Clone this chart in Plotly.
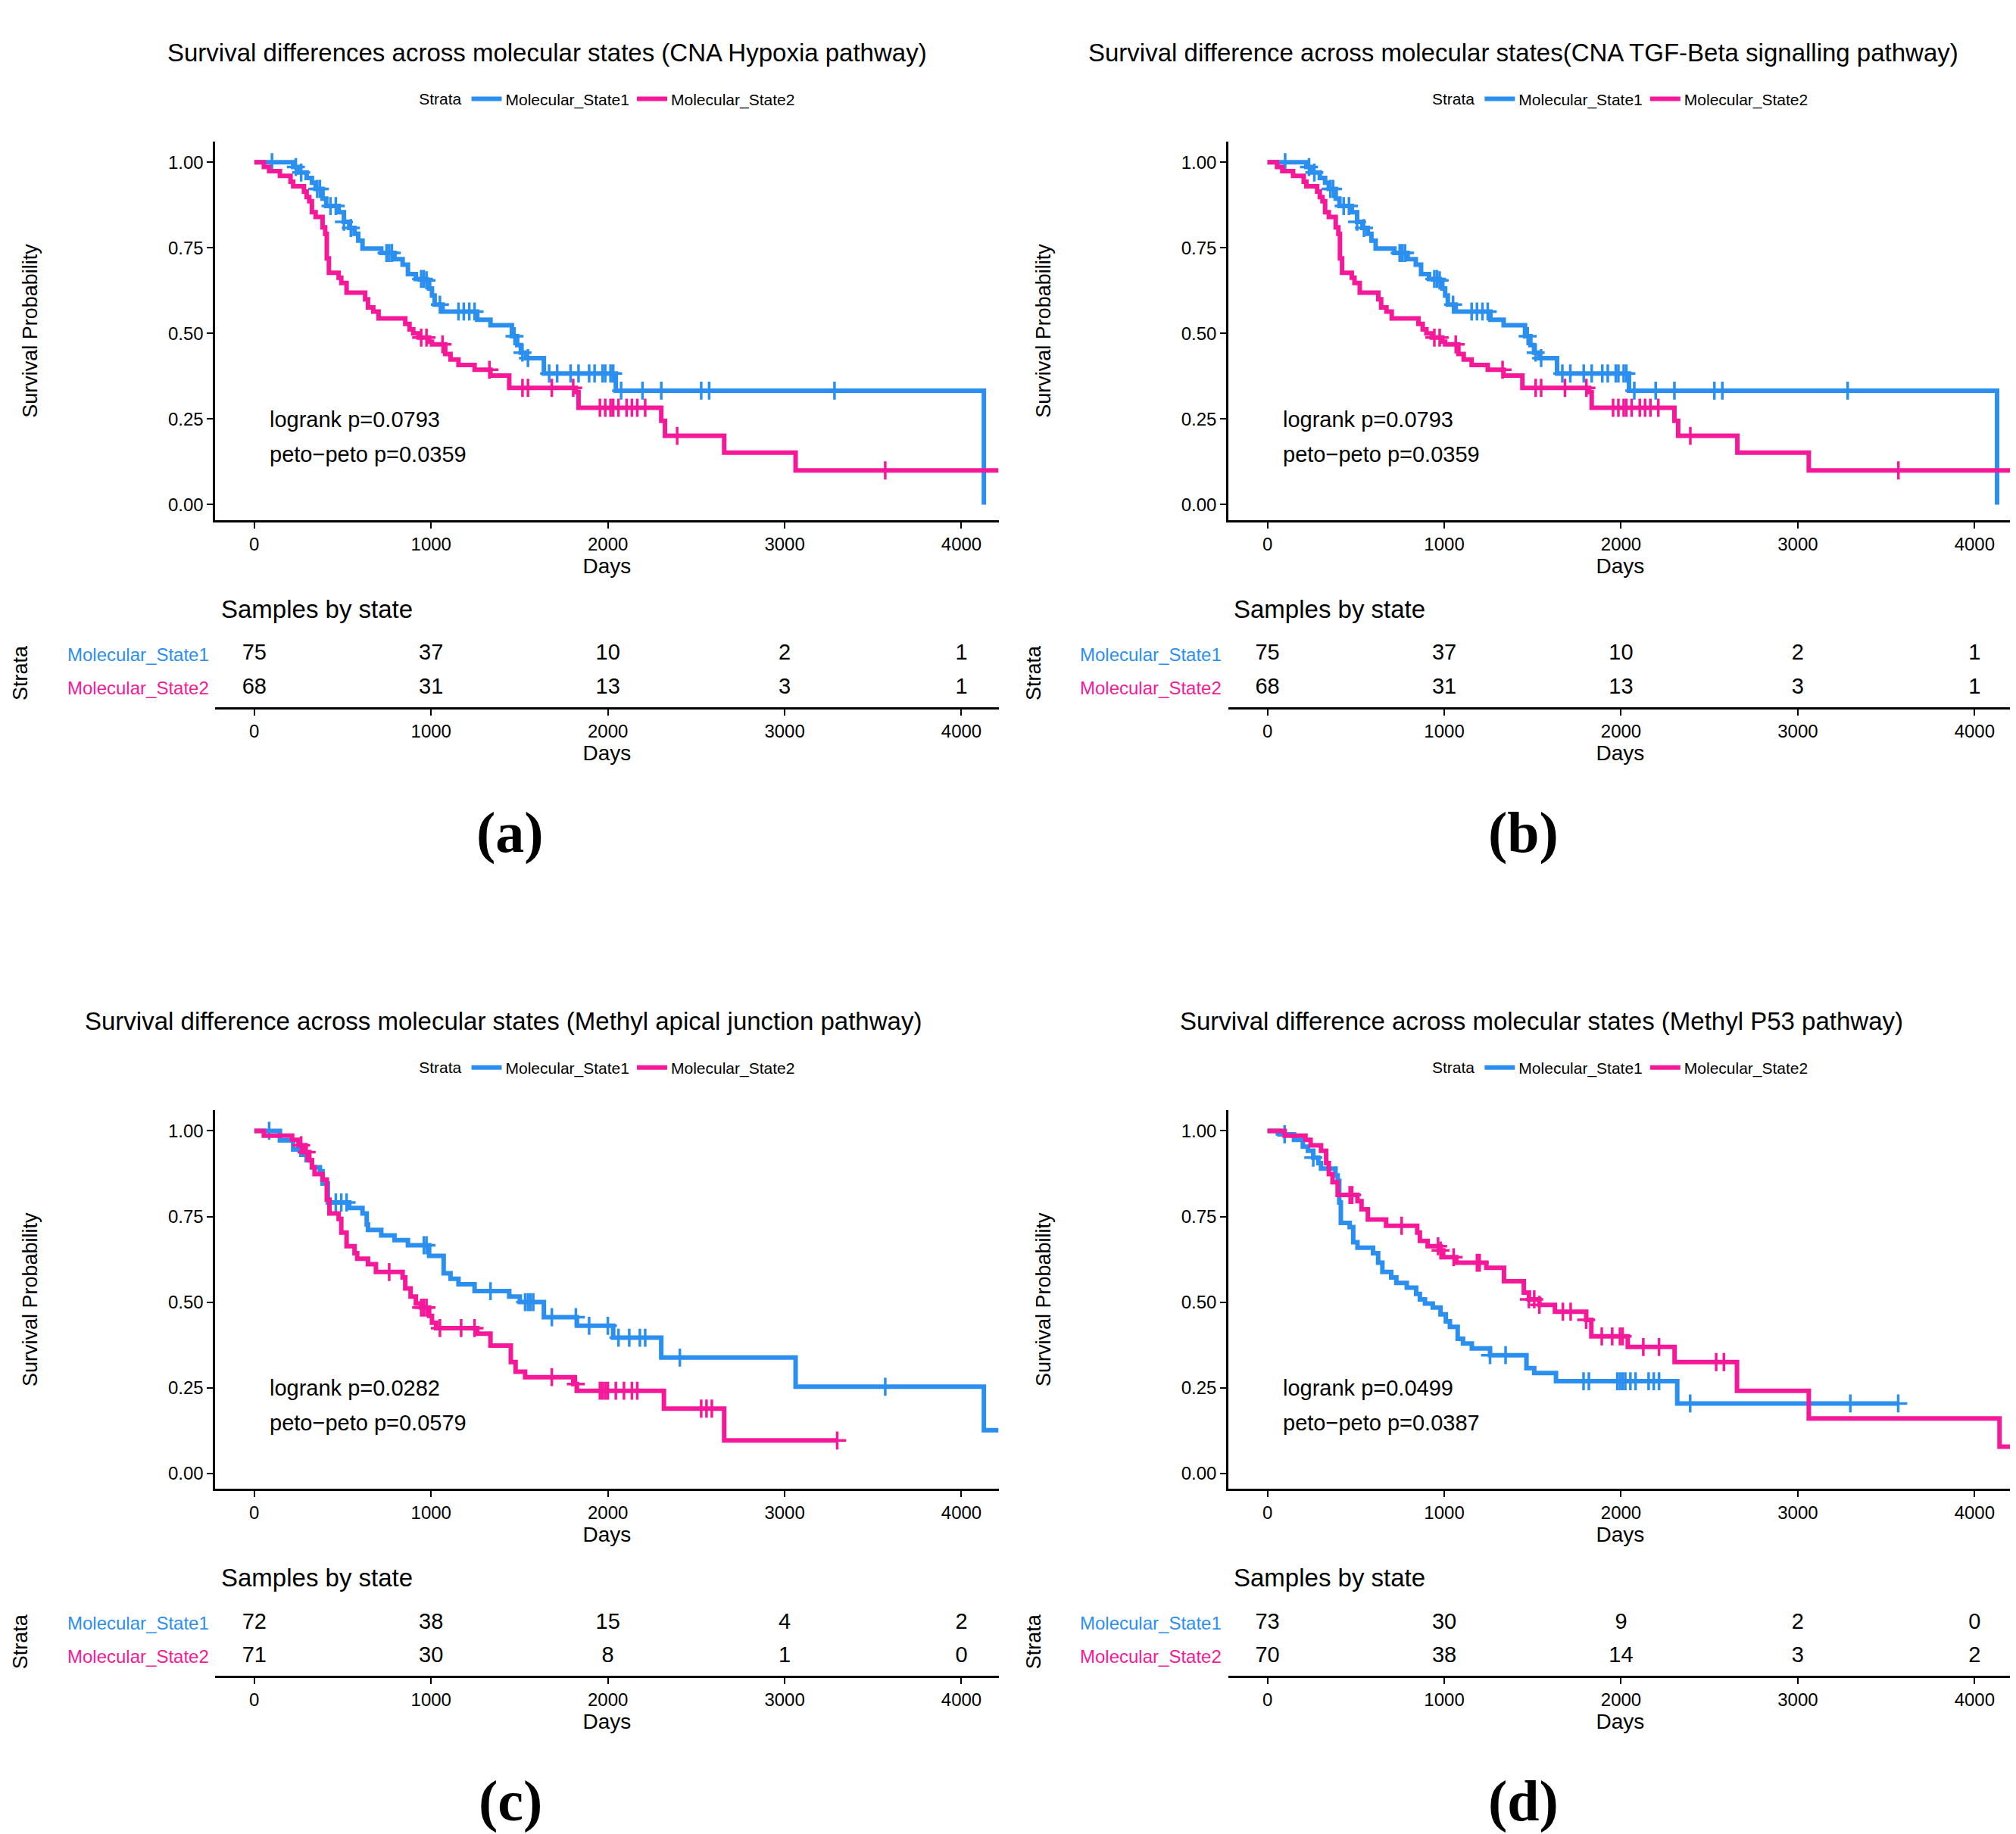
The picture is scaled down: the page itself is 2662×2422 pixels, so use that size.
import numpy as np
import plotly.graph_objects as go

BLUE = "#2b8ff0"
PINK = "#f5199a"
W, H = 2662, 2422
DW, DH = 1560.0, 1420.0  # design coordinates

# ---------------- data ----------------
# Panel a/b (identical)
a_s1_t = [0, 220, 250, 296, 326, 347, 386, 407, 477, 507, 537, 567, 588, 612, 718, 793, 839, 869, 914, 974, 989, 1005, 1020, 1065, 1261, 1336, 1457, 1487, 1508, 1538, 1638, 2045, 4127]
a_s1_s = [1.0, 0.986, 0.970, 0.954, 0.940, 0.922, 0.894, 0.872, 0.854, 0.826, 0.808, 0.791, 0.771, 0.748, 0.735, 0.717, 0.701, 0.673, 0.659, 0.655, 0.631, 0.611, 0.584, 0.564, 0.540, 0.524, 0.492, 0.466, 0.444, 0.428, 0.383, 0.333, 0.0]
a_s1_end = 4127
a_s1_c = [100, 235, 265, 356, 371, 431, 461, 507, 546, 748, 763, 778, 944, 959, 974, 1050, 1155, 1185, 1216, 1246, 1472, 1517, 1548, 1668, 1713, 1789, 1834, 1894, 1925, 1970, 1985, 2015, 2030, 2075, 2196, 2302, 2528, 2573, 3282]
a_s2_t = [0, 54, 84, 145, 205, 220, 281, 296, 311, 326, 347, 386, 401, 410, 422, 477, 492, 522, 627, 643, 673, 703, 854, 878, 899, 929, 989, 1005, 1080, 1110, 1155, 1246, 1336, 1442, 1819, 1834, 2302, 2323, 2658, 3062]
a_s2_s = [1.0, 0.986, 0.974, 0.960, 0.943, 0.930, 0.914, 0.898, 0.886, 0.854, 0.840, 0.810, 0.791, 0.719, 0.677, 0.663, 0.647, 0.619, 0.600, 0.576, 0.564, 0.544, 0.528, 0.512, 0.500, 0.488, 0.476, 0.468, 0.440, 0.424, 0.408, 0.394, 0.377, 0.341, 0.329, 0.283, 0.245, 0.201, 0.152, 0.100]
a_s2_end = 4210
a_s2_c = [944, 974, 1065, 1330, 1517, 1548, 1683, 1804, 1955, 1985, 2015, 2030, 2060, 2106, 2136, 2166, 2211, 2392, 3569]

# Panel c
c_s1_t = [0, 145, 220, 266, 296, 326, 371, 386, 416, 537, 612, 636, 643, 718, 793, 869, 989, 1071, 1110, 1155, 1246, 1442, 1502, 1638, 1825, 2030, 2302, 3062, 4127]
c_s1_s = [1.0, 0.972, 0.946, 0.930, 0.914, 0.894, 0.882, 0.846, 0.791, 0.775, 0.759, 0.727, 0.711, 0.695, 0.681, 0.666, 0.635, 0.584, 0.568, 0.552, 0.532, 0.516, 0.500, 0.456, 0.431, 0.396, 0.338, 0.253, 0.126]
c_s1_end = 4210
c_s1_c = [84, 461, 492, 522, 959, 974, 1336, 1532, 1548, 1563, 1578, 1683, 1819, 1894, 2000, 2060, 2121, 2181, 2211, 2407, 3569]
c_s2_t = [0, 54, 214, 250, 281, 311, 326, 341, 386, 410, 425, 477, 492, 522, 567, 582, 643, 688, 839, 854, 884, 914, 944, 989, 1005, 1029, 1261, 1336, 1451, 1478, 1532, 1804, 1825, 2317, 2658]
c_s2_s = [1.0, 0.986, 0.974, 0.958, 0.938, 0.914, 0.894, 0.874, 0.858, 0.799, 0.759, 0.743, 0.703, 0.663, 0.643, 0.627, 0.611, 0.588, 0.572, 0.540, 0.516, 0.496, 0.484, 0.460, 0.440, 0.424, 0.408, 0.373, 0.325, 0.297, 0.281, 0.261, 0.241, 0.189, 0.096]
c_s2_end = 3297
c_s2_c = [265, 296, 763, 944, 959, 974, 1050, 1170, 1246, 1683, 1819, 1955, 1970, 1985, 2000, 2045, 2091, 2136, 2166, 2528, 2558, 2588, 3297]

# Panel d
d_s1_t = [0, 68, 150, 200, 229, 259, 288, 303, 385, 397, 406, 415, 465, 485, 509, 597, 626, 650, 700, 729, 788, 841, 862, 891, 935, 979, 1009, 1032, 1076, 1106, 1156, 1259, 1465, 1509, 1632, 2318]
d_s1_s = [1.0, 0.990, 0.974, 0.954, 0.942, 0.922, 0.906, 0.890, 0.870, 0.854, 0.791, 0.731, 0.719, 0.675, 0.659, 0.643, 0.615, 0.588, 0.572, 0.556, 0.542, 0.524, 0.508, 0.496, 0.484, 0.464, 0.444, 0.428, 0.393, 0.379, 0.365, 0.345, 0.307, 0.293, 0.269, 0.204]
d_s1_end = 3568
d_s1_c = [97, 259, 1259, 1347, 1788, 1818, 1979, 1994, 2009, 2024, 2053, 2082, 2156, 2185, 2215, 2391, 3297, 3568]
d_s2_t = [0, 97, 215, 244, 303, 332, 347, 368, 397, 509, 532, 568, 671, 847, 862, 906, 979, 994, 1068, 1238, 1338, 1450, 1479, 1538, 1626, 1803, 1832, 2038, 2303, 2656, 3062, 4141]
d_s2_s = [1.0, 0.986, 0.974, 0.958, 0.942, 0.906, 0.874, 0.850, 0.813, 0.795, 0.771, 0.741, 0.723, 0.703, 0.679, 0.663, 0.651, 0.631, 0.615, 0.600, 0.561, 0.528, 0.508, 0.492, 0.472, 0.448, 0.400, 0.369, 0.325, 0.241, 0.160, 0.078]
d_s2_end = 4210
d_s2_c = [465, 479, 759, 965, 979, 1053, 1185, 1200, 1479, 1509, 1538, 1671, 1715, 1803, 1891, 1950, 1994, 2009, 2126, 2215, 2538, 2582]

risk_times = [0, 1000, 2000, 3000, 4000]
a_risk1 = [75, 37, 10, 2, 1]
a_risk2 = [68, 31, 13, 3, 1]
c_risk1 = [72, 38, 15, 4, 2]
c_risk2 = [71, 30, 8, 1, 0]
d_risk1 = [73, 30, 9, 2, 0]
d_risk2 = [70, 38, 14, 3, 2]

titles = ["Survival differences across molecular states (CNA Hypoxia pathway)",
          "Survival difference across molecular states(CNA TGF-Beta signalling pathway)",
          "Survival difference across molecular states (Methyl apical junction pathway)",
          "Survival difference across molecular states (Methyl P53 pathway)"]
pvals = [("logrank p=0.0793", "peto\u2212peto p=0.0359"),
         ("logrank p=0.0793", "peto\u2212peto p=0.0359"),
         ("logrank p=0.0282", "peto\u2212peto p=0.0579"),
         ("logrank p=0.0499", "peto\u2212peto p=0.0387")]
panel_labels = ["(a)", "(b)", "(c)", "(d)"]
strata = ["Molecular_State1", "Molecular_State2"]

panels = [
    ((a_s1_t, a_s1_s, a_s1_end, a_s1_c), (a_s2_t, a_s2_s, a_s2_end, a_s2_c), (a_risk1, a_risk2)),
    ((a_s1_t, a_s1_s, a_s1_end, a_s1_c), (a_s2_t, a_s2_s, a_s2_end, a_s2_c), (a_risk1, a_risk2)),
    ((c_s1_t, c_s1_s, c_s1_end, c_s1_c), (c_s2_t, c_s2_s, c_s2_end, c_s2_c), (c_risk1, c_risk2)),
    ((d_s1_t, d_s1_s, d_s1_end, d_s1_c), (d_s2_t, d_s2_s, d_s2_end, d_s2_c), (d_risk1, d_risk2)),
]

# ---------------- layout helpers ----------------
def px(x):
    return x / DW

def py(y):
    return 1 - y / DH

FONT = "Liberation Sans, Arial, sans-serif"
fig = go.Figure()
layout = dict(width=W, height=H, paper_bgcolor="white", plot_bgcolor="white",
              margin=dict(l=0, r=0, t=0, b=0), font=dict(family=FONT, color="black", size=24))
annotations = []

def step_val(t, s, x):
    i = np.searchsorted(np.asarray(t), x, side="right") - 1
    return np.asarray(s)[np.clip(i, 0, len(s) - 1)]

title_x = [419, 1174, 385, 1188]
XR = [-220, 4210]
for k, (c1, c2, risks) in enumerate(panels):
    ox = 0 if k % 2 == 0 else 784
    oy = 0 if k < 2 else 750
    pa, ra = 2 * k + 1, 2 * k + 2
    xa_p, ya_p = f"x{pa}", f"y{pa}"
    xa_r, ya_r = f"x{ra}", f"y{ra}"
    leg = "legend" if k == 0 else f"legend{k + 1}"
    for (t, s, end, cens), col, name in [(c1, BLUE, strata[0]), (c2, PINK, strata[1])]:
        xs = list(t) + [end]
        ys = list(s) + [s[-1]]
        fig.add_trace(go.Scatter(x=xs, y=ys, mode="lines", line=dict(color=col, width=6, shape="hv"),
                                 name=name, xaxis=xa_p, yaxis=ya_p, legend=leg, showlegend=True))
        cy = step_val(t, s, np.asarray(cens))
        fig.add_trace(go.Scatter(x=cens, y=cy, mode="markers", showlegend=False, xaxis=xa_p, yaxis=ya_p,
                                 marker=dict(symbol="cross-thin", size=17, line=dict(color=col, width=3.5))))
    for row, (vals, col) in enumerate([(risks[0], BLUE), (risks[1], PINK)]):
        fig.add_trace(go.Scatter(x=risk_times, y=[2 - row] * 5, mode="text", text=[str(v) for v in vals],
                                 textfont=dict(size=29, color="black", family=FONT), showlegend=False,
                                 xaxis=xa_r, yaxis=ya_r))
        annotations.append(dict(xref="paper", yref="paper", x=px(ox + 158), y=py(oy + 502 + 26 * row),
                                text=strata[row], showarrow=False, xanchor="right", yanchor="middle",
                                font=dict(size=24, color=col)))
    axstyle = dict(showline=True, linecolor="black", linewidth=3, ticks="outside", ticklen=8,
                   tickwidth=2, tickcolor="black", showgrid=False, zeroline=False,
                   tickfont=dict(size=24, color="black"))
    layout[f"xaxis{pa}"] = dict(domain=[px(ox + 162), px(ox + 768)], anchor=ya_p, range=XR,
                                tickvals=risk_times, title=dict(text="Days", font=dict(size=28), standoff=4), **axstyle)
    layout[f"yaxis{pa}"] = dict(domain=[py(oy + 398), py(oy + 105)], anchor=xa_p, range=[-0.045, 1.06],
                                tickvals=[0, 0.25, 0.5, 0.75, 1.0], ticktext=["0.00", "0.25", "0.50", "0.75", "1.00"],
                                title=dict(text="Survival Probability", font=dict(size=27), standoff=165), **axstyle)
    layout[f"xaxis{ra}"] = dict(domain=[px(ox + 162), px(ox + 768)], anchor=ya_r, range=XR,
                                tickvals=risk_times, title=dict(text="Days", font=dict(size=28), standoff=4), **axstyle)
    ry = dict(axstyle)
    ry.update(showline=False, ticks="", showticklabels=False)
    layout[f"yaxis{ra}"] = dict(domain=[py(oy + 543), py(oy + 490)], anchor=xa_r, range=[0.42, 2.46],
                                title=dict(text="Strata", font=dict(size=27), standoff=238), **ry)
    layout[leg] = dict(orientation="h", x=px(ox + 466), y=py(oy + 72), xanchor="center", yanchor="middle",
                       title=dict(text="Strata", font=dict(size=21)), font=dict(size=21), bgcolor="rgba(0,0,0,0)",
                       itemwidth=40)
    annotations.append(dict(xref="paper", yref="paper", x=px(title_x[k]),
                            y=py(oy + 36), text=titles[k], showarrow=False, xanchor="center", yanchor="middle",
                            font=dict(size=33)))
    annotations.append(dict(xref=xa_p, yref=ya_p, x=80, y=0.249, text=pvals[k][0], showarrow=False,
                            xanchor="left", yanchor="middle", font=dict(size=29)))
    annotations.append(dict(xref=xa_p, yref=ya_p, x=80, y=0.147, text=pvals[k][1], showarrow=False,
                            xanchor="left", yanchor="middle", font=dict(size=29)))
    annotations.append(dict(xref="paper", yref="paper", x=px(ox + 165), y=py(oy + 467), text="Samples by state",
                            showarrow=False, xanchor="left", yanchor="middle", font=dict(size=33)))
    annotations.append(dict(xref="paper", yref="paper", x=px(ox + 390), y=py(oy + 640), text=f"<b>{panel_labels[k]}</b>",
                            showarrow=False, xanchor="center", yanchor="middle",
                            font=dict(size=76, family="Liberation Serif, DejaVu Serif, serif")))

layout["annotations"] = annotations
fig.update_layout(**layout)
fig.write_html("out.html")
